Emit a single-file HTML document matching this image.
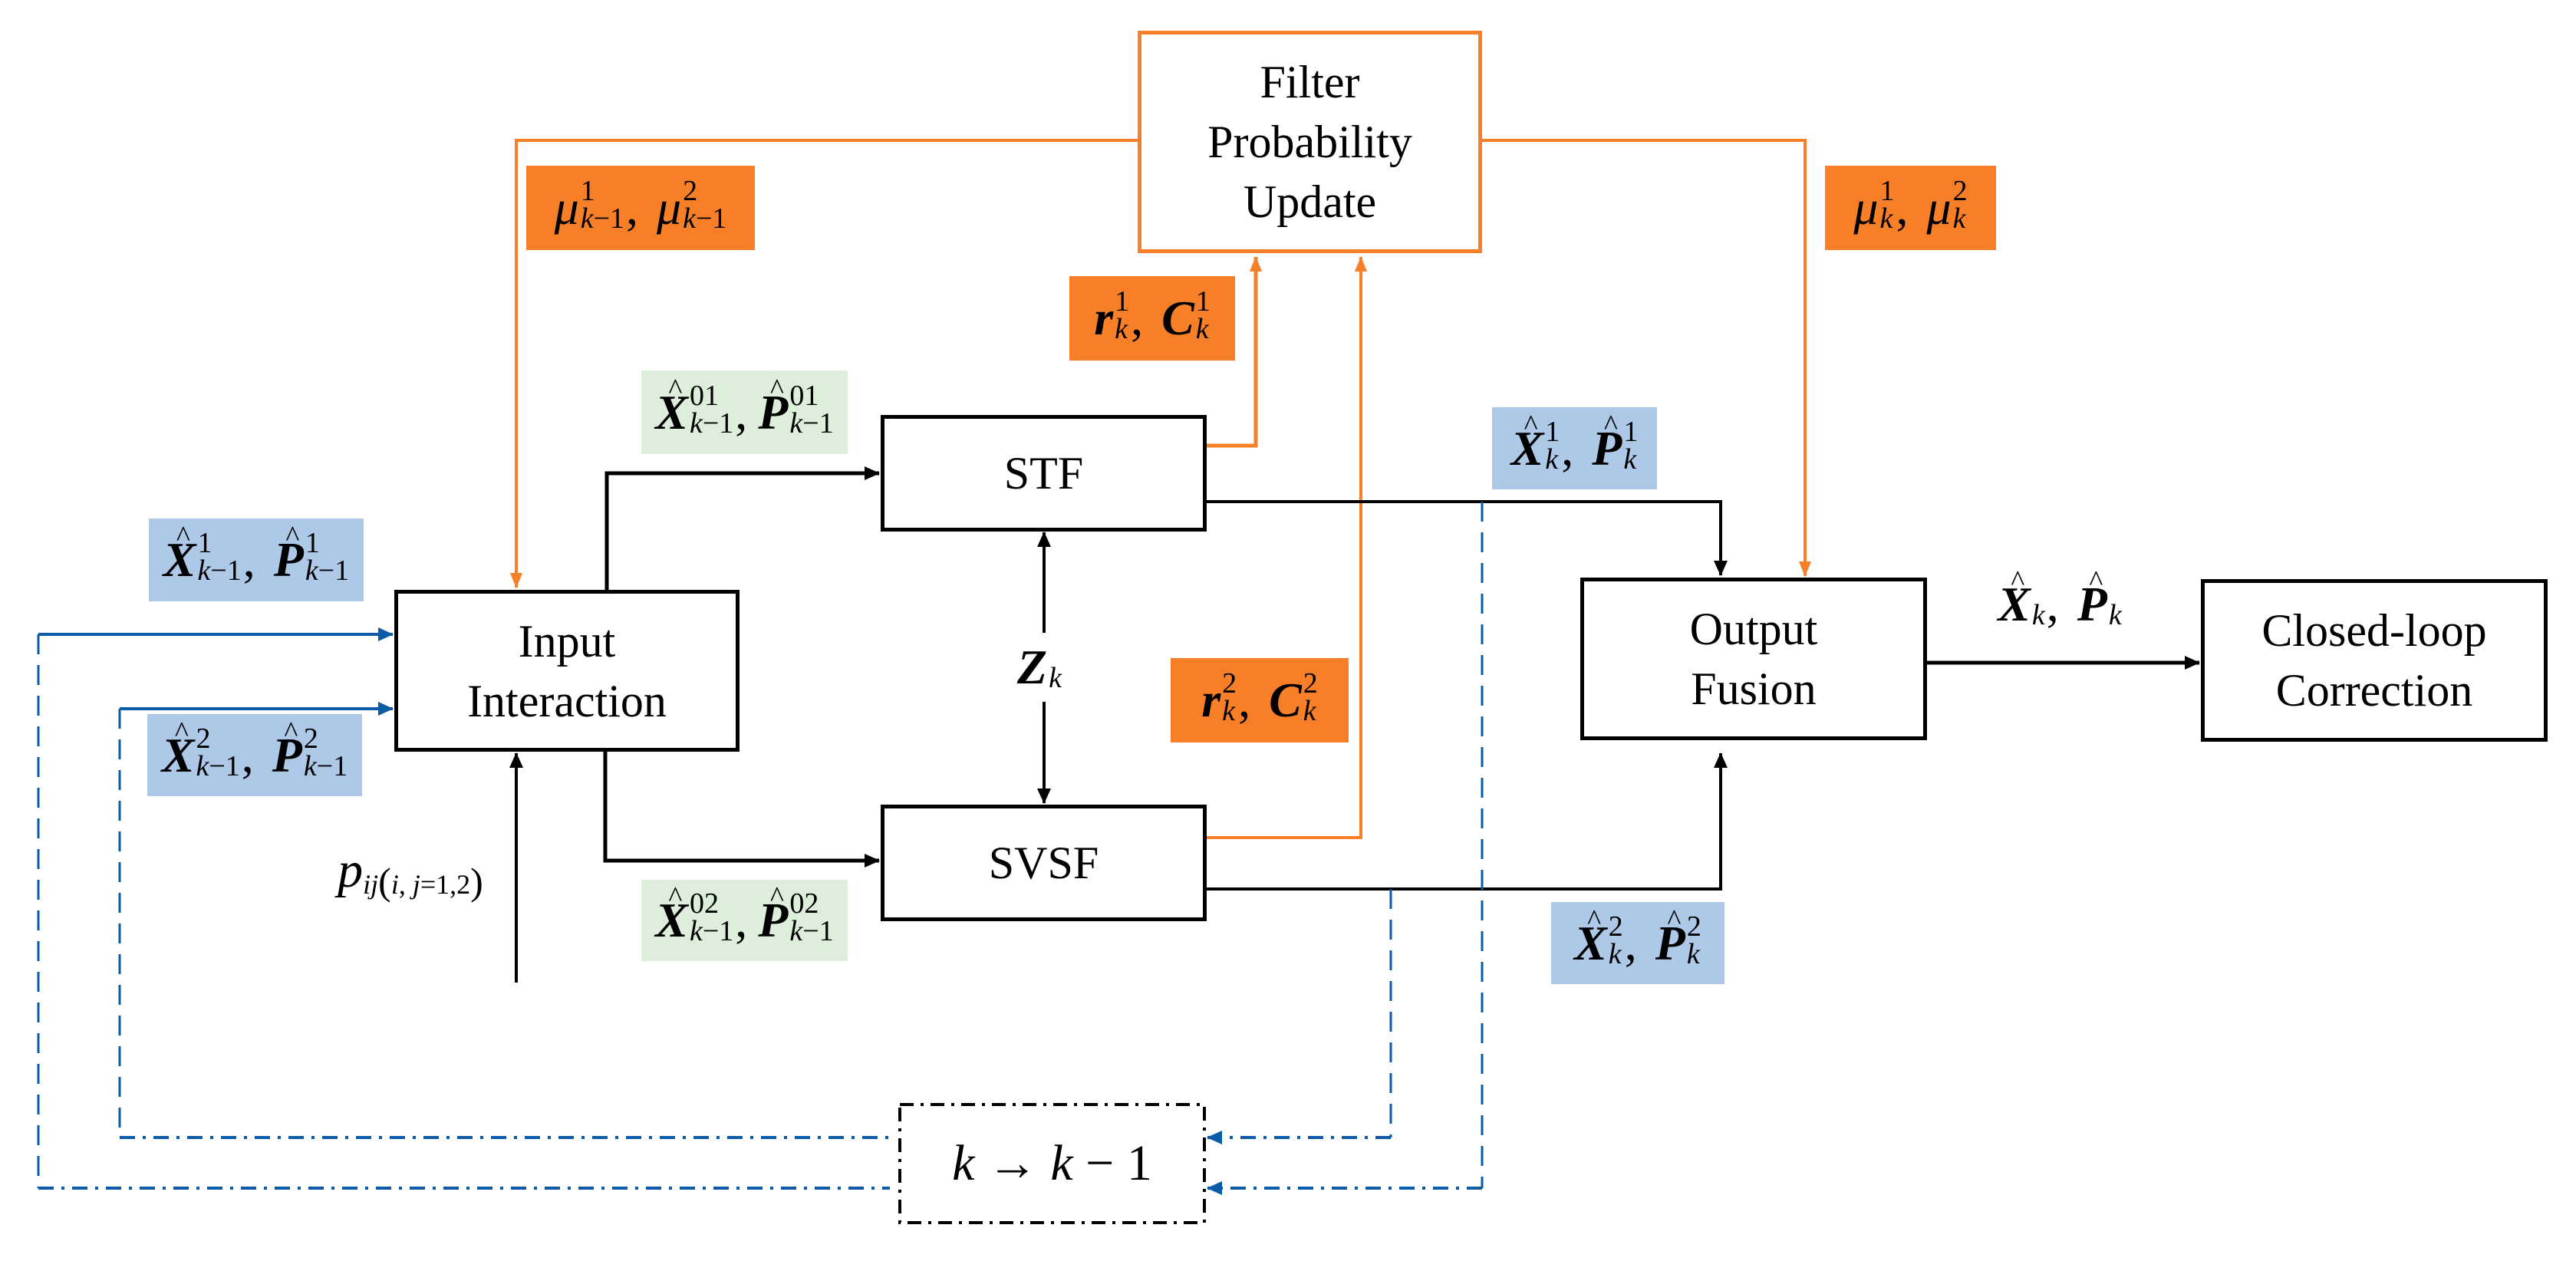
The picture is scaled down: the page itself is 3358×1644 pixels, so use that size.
<!DOCTYPE html>
<html><head><meta charset="utf-8"><style>
*{font-family:"Liberation Serif","Times New Roman","DejaVu Serif",serif;}
body{margin:0;width:3358px;height:1644px;background:#fff;position:relative;overflow:hidden;}
.box{position:absolute;border:5px solid #000;box-sizing:border-box;display:flex;align-items:center;justify-content:center;text-align:center;font-size:60px;line-height:78px;color:#000;}
.lab{position:absolute;display:flex;align-items:center;justify-content:center;white-space:nowrap;font-size:64px;color:#000;}
.o{background:#F77F27}.b{background:#AEC8E8}.g{background:#DDEFDA}
.v{font-weight:bold;font-style:italic;position:relative;display:inline-block}
.vn{font-style:italic;display:inline-block;position:relative}
.hat::after{content:"^";position:absolute;left:40%;top:-0.38em;font-weight:normal;font-style:normal;font-size:0.6em}
.sc{display:inline-flex;flex-direction:column;font-size:38px;line-height:36px;vertical-align:middle;margin-left:2px;text-align:left;position:relative;top:-4px}
.sc i{font-style:italic}
.cm{margin:0 24px 0 2px}
svg{position:absolute;left:0;top:0}
</style></head><body>
<svg width="3358" height="1644" viewBox="0 0 3358 1644">
<defs>
<marker id="abk" markerWidth="20" markerHeight="18" refX="19" refY="9" orient="auto" markerUnits="userSpaceOnUse"><path d="M0,0 L20,9 L0,18 z" fill="#000"/></marker>
<marker id="ao" markerWidth="20" markerHeight="16" refX="19" refY="8" orient="auto" markerUnits="userSpaceOnUse"><path d="M0,0 L20,8 L0,16 z" fill="#F77F27"/></marker>
<marker id="abl" markerWidth="20" markerHeight="18" refX="19" refY="9" orient="auto" markerUnits="userSpaceOnUse"><path d="M0,0 L20,9 L0,18 z" fill="#0B5BA6"/></marker>
</defs>
<g fill="none" stroke-linejoin="miter">
<polyline points="1483,183 673,183 673,766" stroke="#F77F27" stroke-width="4" marker-end="url(#ao)"/>
<polyline points="1932,183 2353,183 2353,751" stroke="#F77F27" stroke-width="4" marker-end="url(#ao)"/>
<polyline points="1572,581 1637,581 1637,335" stroke="#F77F27" stroke-width="5" marker-end="url(#ao)"/>
<polyline points="1572,1092 1774,1092 1774,335" stroke="#F77F27" stroke-width="4" marker-end="url(#ao)"/>
<polyline points="791,769 791,617 1146,617" stroke="#000" stroke-width="5" marker-end="url(#abk)"/>
<polyline points="789,979 789,1122 1146,1122" stroke="#000" stroke-width="5" marker-end="url(#abk)"/>
<line x1="673" y1="1281" x2="673" y2="982" stroke="#000" stroke-width="4" marker-end="url(#abk)"/>
<line x1="1361" y1="833" x2="1361" y2="694" stroke="#000" stroke-width="4" marker-end="url(#abk)"/>
<line x1="1361" y1="904" x2="1361" y2="1047" stroke="#000" stroke-width="4" marker-end="url(#abk)"/>
<polyline points="1572,654 2243,654 2243,750" stroke="#000" stroke-width="4" marker-end="url(#abk)"/>
<polyline points="1572,1159 2243,1159 2243,982" stroke="#000" stroke-width="4" marker-end="url(#abk)"/>
<line x1="2512" y1="864" x2="2867" y2="864" stroke="#000" stroke-width="5" marker-end="url(#abk)"/>
<line x1="50" y1="827" x2="512" y2="827" stroke="#0B5BA6" stroke-width="4" marker-end="url(#abl)"/>
<line x1="156" y1="924" x2="512" y2="924" stroke="#0B5BA6" stroke-width="4" marker-end="url(#abl)"/>
<line x1="50" y1="827" x2="50" y2="1549" stroke="#0B5BA6" stroke-width="3" stroke-dasharray="26 14"/>
<line x1="156" y1="924" x2="156" y2="1483" stroke="#0B5BA6" stroke-width="3" stroke-dasharray="26 14"/>
<line x1="50" y1="1549" x2="1160" y2="1549" stroke="#0B5BA6" stroke-width="4" stroke-dasharray="20 10 4 10"/>
<line x1="156" y1="1483" x2="1160" y2="1483" stroke="#0B5BA6" stroke-width="4" stroke-dasharray="20 10 4 10"/>
<line x1="1813" y1="1159" x2="1813" y2="1483" stroke="#0B5BA6" stroke-width="3" stroke-dasharray="26 14"/>
<line x1="1932" y1="654" x2="1932" y2="1549" stroke="#0B5BA6" stroke-width="3" stroke-dasharray="26 14"/>
<line x1="1813" y1="1483" x2="1574" y2="1483" stroke="#0B5BA6" stroke-width="4" stroke-dasharray="20 10 4 10" marker-end="url(#abl)"/>
<line x1="1932" y1="1549" x2="1574" y2="1549" stroke="#0B5BA6" stroke-width="4" stroke-dasharray="20 10 4 10" marker-end="url(#abl)"/>
<rect x="1173" y="1440" width="397" height="154" stroke="#000" stroke-width="4" stroke-dasharray="18 9 4 9"/>
</g>
</svg>

<div class="box" style="left:1483px;top:40px;width:449px;height:290px;border-color:#F77F27;">Filter<br>Probability<br>Update</div>
<div class="box" style="left:1148px;top:541px;width:425px;height:152px;">STF</div>
<div class="box" style="left:1148px;top:1049px;width:425px;height:152px;">SVSF</div>
<div class="box" style="left:514px;top:769px;width:450px;height:211px;">Input<br>Interaction</div>
<div class="box" style="left:2060px;top:753px;width:452px;height:212px;">Output<br>Fusion</div>
<div class="box" style="left:2869px;top:755px;width:452px;height:212px;">Closed-loop<br>Correction</div>

<div class="lab" style="left:1173px;top:1440px;width:397px;height:154px;font-size:66px;"><i>k</i>&nbsp;→&nbsp;<i>k</i>&nbsp;−&nbsp;1</div>

<div class="lab o" style="left:686px;top:216px;width:298px;height:110px;"><span class="vn">μ</span><span class="sc"><span>1</span><span><i>k</i>−1</span></span><span class="cm">,</span><span class="vn">μ</span><span class="sc"><span>2</span><span><i>k</i>−1</span></span></div>
<div class="lab o" style="left:2379px;top:216px;width:223px;height:110px;"><span class="vn">μ</span><span class="sc"><span>1</span><span><i>k</i></span></span><span class="cm">,</span><span class="vn">μ</span><span class="sc"><span>2</span><span><i>k</i></span></span></div>
<div class="lab o" style="left:1394px;top:360px;width:216px;height:110px;"><span class="v">r</span><span class="sc"><span>1</span><span><i>k</i></span></span><span class="cm">,</span><span class="v">C</span><span class="sc"><span>1</span><span><i>k</i></span></span></div>
<div class="lab o" style="left:1526px;top:858px;width:232px;height:110px;"><span class="v">r</span><span class="sc"><span>2</span><span><i>k</i></span></span><span class="cm">,</span><span class="v">C</span><span class="sc"><span>2</span><span><i>k</i></span></span></div>

<div class="lab g" style="left:836px;top:483px;width:269px;height:109px;"><span class="v hat">X</span><span class="sc"><span>01</span><span><i>k</i>−1</span></span><span class="cm" style="margin-right:14px">,</span><span class="v hat">P</span><span class="sc"><span>01</span><span><i>k</i>−1</span></span></div>
<div class="lab g" style="left:836px;top:1147px;width:269px;height:106px;"><span class="v hat">X</span><span class="sc"><span>02</span><span><i>k</i>−1</span></span><span class="cm" style="margin-right:14px">,</span><span class="v hat">P</span><span class="sc"><span>02</span><span><i>k</i>−1</span></span></div>

<div class="lab b" style="left:194px;top:676px;width:280px;height:108px;"><span class="v hat">X</span><span class="sc"><span>1</span><span><i>k</i>−1</span></span><span class="cm">,</span><span class="v hat">P</span><span class="sc"><span>1</span><span><i>k</i>−1</span></span></div>
<div class="lab b" style="left:192px;top:931px;width:280px;height:107px;"><span class="v hat">X</span><span class="sc"><span>2</span><span><i>k</i>−1</span></span><span class="cm">,</span><span class="v hat">P</span><span class="sc"><span>2</span><span><i>k</i>−1</span></span></div>
<div class="lab b" style="left:1945px;top:531px;width:215px;height:107px;"><span class="v hat">X</span><span class="sc"><span>1</span><span><i>k</i></span></span><span class="cm">,</span><span class="v hat">P</span><span class="sc"><span>1</span><span><i>k</i></span></span></div>
<div class="lab b" style="left:2022px;top:1176px;width:226px;height:107px;"><span class="v hat">X</span><span class="sc"><span>2</span><span><i>k</i></span></span><span class="cm">,</span><span class="v hat">P</span><span class="sc"><span>2</span><span><i>k</i></span></span></div>

<div class="lab" style="left:2570px;top:738px;width:230px;height:100px;"><span class="v hat">X</span><span class="sc"><span>&nbsp;</span><span><i>k</i></span></span><span class="cm">,</span><span class="v hat">P</span><span class="sc"><span>&nbsp;</span><span><i>k</i></span></span></div>

<div class="lab" style="left:1310px;top:825px;width:90px;height:90px;background:#fff;"><span class="v">Z</span><span class="sc" style="top:14px"><span><i>k</i></span></span></div>

<div class="lab" style="left:400px;top:1090px;width:270px;height:90px;"><span class="vn" style="font-size:66px">p</span><span style="font-size:36px;font-style:italic;position:relative;top:18px">ij</span><span style="font-size:50px;position:relative;top:14px">(</span><span style="font-size:36px;position:relative;top:18px"><i>i</i>, <i>j</i>=1,2</span><span style="font-size:50px;position:relative;top:14px">)</span></div>
</body></html>
